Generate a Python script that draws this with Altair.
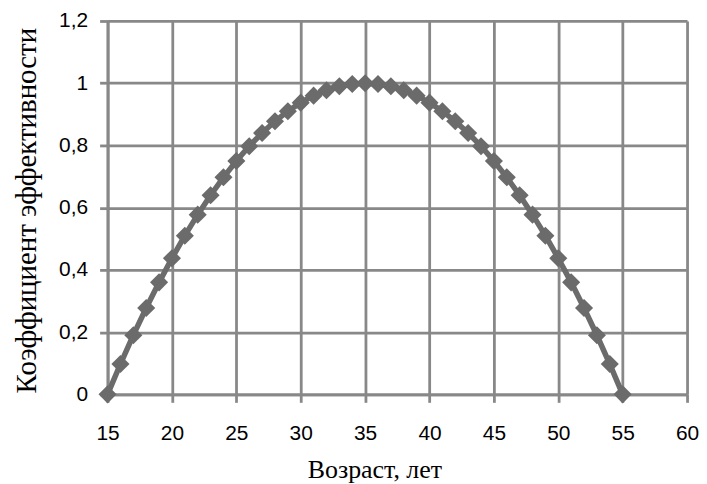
import altair as alt
import pandas as pd

ages = [15, 16, 17, 18, 19, 20, 21, 22, 23, 24, 25, 26, 27, 28, 29, 30, 31, 32, 33, 34, 35,
        36, 37, 38, 39, 40, 41, 42, 43, 44, 45, 46, 47, 48, 49, 50, 51, 52, 53, 54, 55]
coef = [0, 0.0975, 0.19, 0.2775, 0.36, 0.4375, 0.51, 0.5775, 0.64, 0.6975, 0.75, 0.7975,
        0.84, 0.8775, 0.91, 0.9375, 0.96, 0.9775, 0.99, 0.9975, 1, 0.9975, 0.99, 0.9775,
        0.96, 0.9375, 0.91, 0.8775, 0.84, 0.7975, 0.75, 0.6975, 0.64, 0.5775, 0.51, 0.4375,
        0.36, 0.2775, 0.19, 0.0975, 0]
x_ticks = [15, 20, 25, 30, 35, 40, 45, 50, 55, 60]
y_ticks = [0, 0.2, 0.4, 0.6, 0.8, 1.0, 1.2]

df = pd.DataFrame({"age": ages, "coef": coef})

GRID = "#888888"
MARK = "#6b6b6b"

x_axis = alt.Axis(
    values=x_ticks, grid=True, gridColor=GRID, gridWidth=2.8,
    domainColor=GRID, domainWidth=2.8, tickColor=GRID, tickWidth=2.8, tickSize=8,
    labelFont="Liberation Sans", labelFontSize=21, labelColor="black", labelPadding=20,
    labelFlush=False,
    title="Возраст, лет", titleFont="Liberation Serif", titleFontSize=26,
    titleFontWeight="normal", titleColor="black", titleX=268, titleY=84,
    titleBaseline="alphabetic",
)
y_axis = alt.Axis(
    values=y_ticks, grid=True, gridColor=GRID, gridWidth=2.8,
    domainColor=GRID, domainWidth=2.8, tickColor=GRID, tickWidth=2.8, tickSize=8,
    labelFont="Liberation Sans", labelFontSize=21, labelColor="black", labelPadding=12,
    labelExpr="replace(format(datum.value, '~g'), '.', ',')", labelFlush=False,
    title="Коэффициент эффективности", titleFont="Liberation Serif", titleFontSize=29,
    titleFontWeight="normal", titleColor="black", titleX=-72, titleY=190,
    titleBaseline="alphabetic", titleAngle=270,
)

base = alt.Chart(df).encode(
    x=alt.X("age:Q", scale=alt.Scale(domain=[15, 60], nice=False, zero=False), axis=x_axis),
    y=alt.Y("coef:Q", scale=alt.Scale(domain=[0, 1.2], nice=False), axis=y_axis),
)
line = base.mark_line(color=MARK, strokeWidth=5.5)
pts = base.mark_point(shape="diamond", filled=True, size=330, color=MARK, opacity=1)

chart = (line + pts).properties(
    width=582, height=375,
    autosize=alt.AutoSizeParams(type="none"),
    padding={"left": 100, "top": 12, "right": 12, "bottom": 89},
    background="white",
).configure_view(strokeWidth=0)

chart.save("out.html", embed_options={"renderer": "svg", "actions": False})
